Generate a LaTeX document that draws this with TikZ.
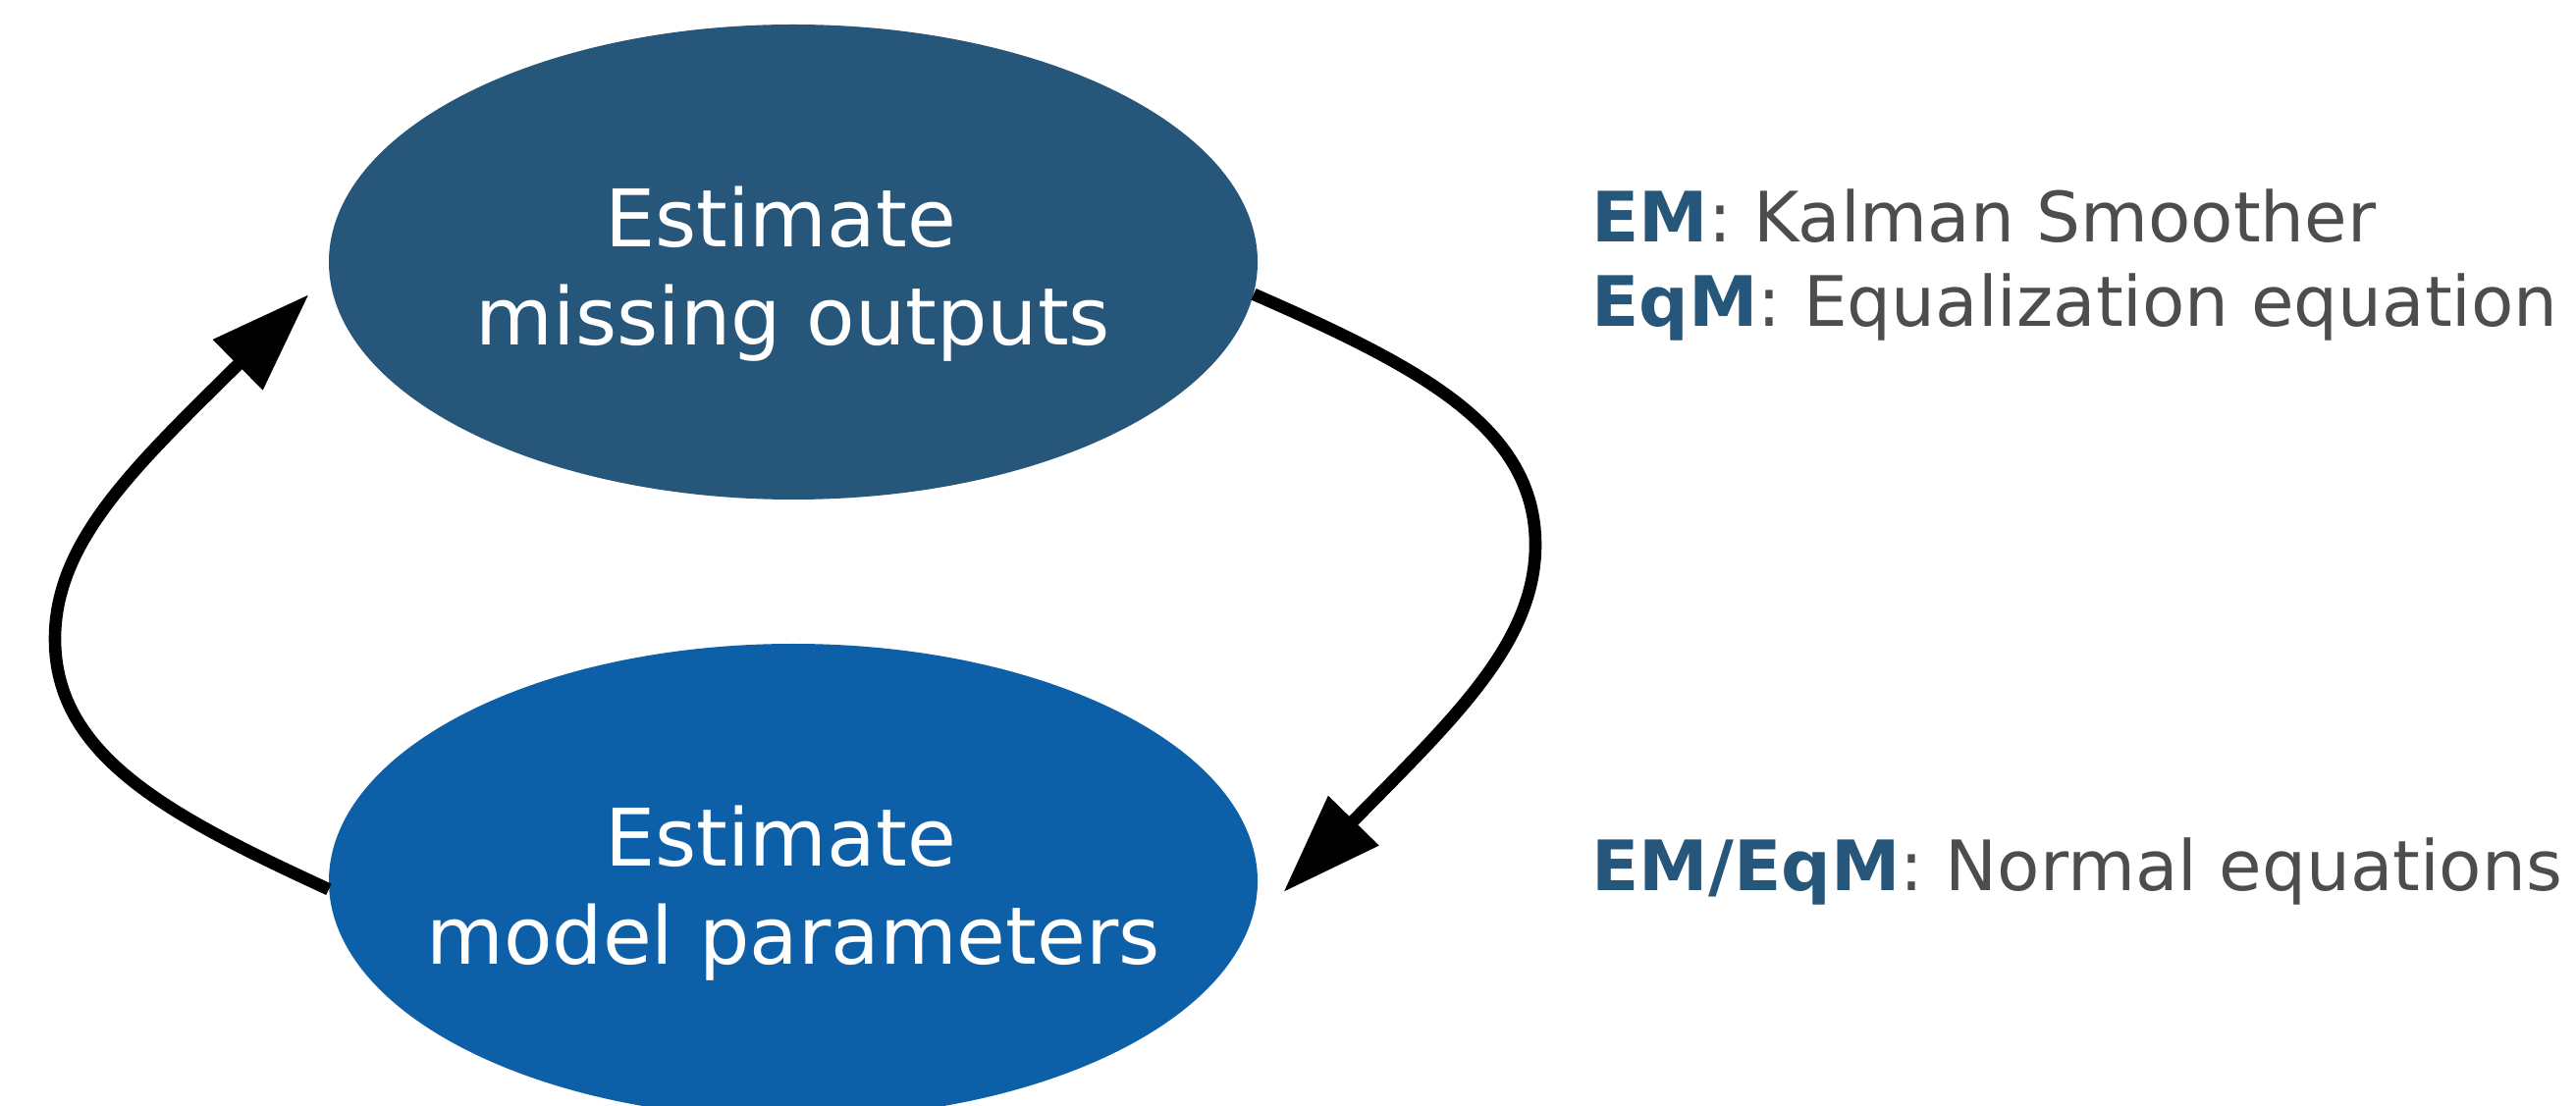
\documentclass[tikz,border=0pt]{standalone}
\usepackage{fontspec}
\setmainfont{DejaVu Sans}
\usetikzlibrary{shapes.geometric,arrows.meta,calc}
\definecolor{topc}{HTML}{26567A}
\definecolor{botc}{HTML}{0D60A8}
\definecolor{grayt}{HTML}{4D4D4D}
\begin{document}
\begin{tikzpicture}[x=0.5pt,y=-0.5pt,
  blob/.style={ellipse,draw=none,inner sep=0pt,minimum width=473pt,minimum height=242pt},
  intext/.style={text=white,align=center,inner sep=0pt,font=\fontsize{40.5pt}{50pt}\selectfont},
  side/.style={anchor=base west,inner sep=0pt,text=grayt,font=\fontsize{35.4pt}{43pt}\selectfont},
  loop/.style={line width=6.3pt,-{Triangle[length=51pt,width=34.5pt]}}]
\useasboundingbox (0,0) rectangle (2624,1127);
\clip (0,0) rectangle (2624,1127);
\node[blob,fill=topc] (top) at (808,267) {};
\node[blob,fill=botc] (bot) at (808,898) {};
\node[intext] (toptext) at (808,279) {Estimate\kern12.9pt\\missing outputs};
\node[intext] (bottext) at (808,910) {Estimate\kern12.9pt\\model parameters};
\node[side] (s1) at (1621,247) {\textbf{\textcolor{topc}{EM}}: Kalman Smoother};
\node[side] (s2) at (1621,333) {\textbf{\textcolor{topc}{EqM}}: Equalization equation};
\node[side] (s3) at (1621,907) {\textbf{\textcolor{topc}{EM/EqM}}: Normal equations};
\draw[loop] (top.-4) .. controls (1446,374) and (1564,435) .. (1564,555)
  .. controls (1564,655) and (1481,732) .. ([shift={(26,11)}]bot.east);
\draw[loop] (bot.181) .. controls (174,832) and (56,771) .. (56,651)
  .. controls (56,551) and (139,474) .. ([shift={(-20,33)}]top.west);
\end{tikzpicture}
\end{document}
